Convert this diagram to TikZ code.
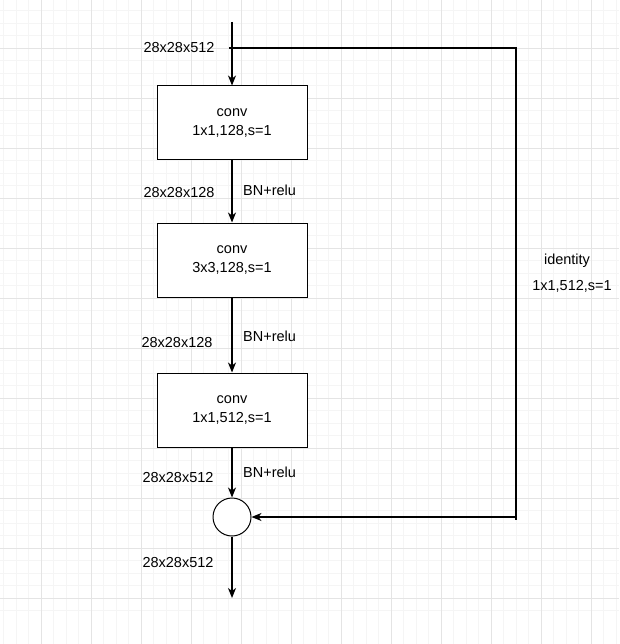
\documentclass[tikz,border=0pt]{standalone}
\usepackage{fontspec}
\setmainfont{Liberation Sans}
\usetikzlibrary{arrows.meta}
\definecolor{gridminor}{HTML}{F5F5F5}
\definecolor{gridmajor}{HTML}{E4E4E4}
\begin{document}
\begin{tikzpicture}[x=1pt,y=-1pt,
  every node/.style={font=\fontsize{14.5pt}{17pt}\selectfont, inner sep=0pt},
  convbox/.style={draw=black, line width=1pt, minimum width=150pt, minimum height=74pt, align=center, fill=white},
  sumnode/.style={draw=black, line width=1pt, circle, minimum size=38pt, fill=white},
  link/.style={draw=black, line width=1.2pt},
  arrowlink/.style={link, -{Stealth[length=10pt,width=8pt,inset=3pt]}},
  lbl/.style={anchor=center}
]
\useasboundingbox (0,0) rectangle (619,644);
\fill[white] (0,0) rectangle (619,644);
% grid
\foreach \i in {0,...,49} {
  \draw[gridminor, line width=0.8pt] ({3.5+12.5*\i},0) -- ({3.5+12.5*\i},644);
  \draw[gridminor, line width=0.8pt] (0,{-2+12.5*\i}) -- (619,{-2+12.5*\i});
}
\foreach \i in {0,...,12} {
  \draw[gridmajor, line width=0.8pt] ({41+50*\i},0) -- ({41+50*\i},644);
  \draw[gridmajor, line width=0.8pt] (0,{-2+50*\i}) -- (619,{-2+50*\i});
}
% nodes
\node[convbox] (c1) at (232,123) {conv\\[2pt]1x1,128,s=1};
\node[convbox] (c2) at (232,260) {conv\\[2pt]3x3,128,s=1};
\node[convbox] (c3) at (232,410) {conv\\[2pt]1x1,512,s=1};
\node[sumnode] (sum) at (232,517) {};
\coordinate (in) at (232,22);
\coordinate (out) at (232,598);
\coordinate (skipstart) at (229,48);
\coordinate (skipcorner) at (516,48);
\coordinate (skipend) at (516,520);
\coordinate (skipback) at (516,517);
% connectors
\draw[arrowlink] (in) -- (c1.north);
\draw[arrowlink] (c1.south) -- (c2.north);
\draw[arrowlink] (c2.south) -- (c3.north);
\draw[arrowlink] (c3.south) -- (sum.north);
\draw[arrowlink] (sum.south) -- (out);
\draw[link] (skipstart) -- (skipcorner) -- (skipend);
\draw[arrowlink] (skipback) -- (sum.east);
% labels
\node[lbl] (l1) at (179,48) {28x28x512};
\node[lbl] (l2) at (179,193) {28x28x128};
\node[lbl] (l3) at (177,343) {28x28x128};
\node[lbl] (l4) at (178,478) {28x28x512};
\node[lbl] (l5) at (178,563) {28x28x512};
\node[anchor=west] (b1) at (243,190) {BN+relu};
\node[anchor=west] (b2) at (243,336) {BN+relu};
\node[anchor=west] (b3) at (243,472) {BN+relu};
\node[lbl] (id1) at (567,261) {identity};
\node[lbl] (id2) at (572,286) {1x1,512,s=1};
\end{tikzpicture}
\end{document}
